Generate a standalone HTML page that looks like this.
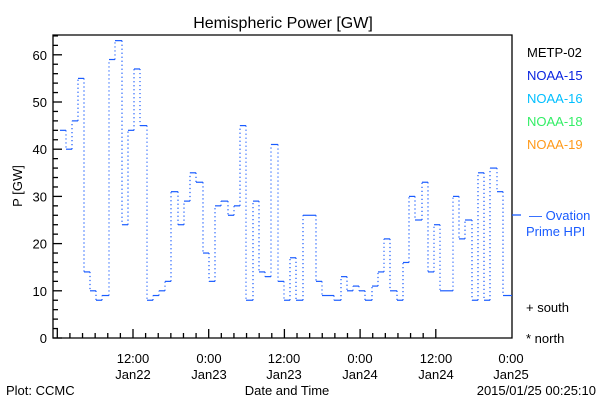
<!DOCTYPE html>
<html><head><style>body{margin:0;background:#fff}svg{display:block}text{font-family:"Liberation Sans",sans-serif}</style></head>
<body>
<svg id="s" width="600" height="400" xmlns="http://www.w3.org/2000/svg">
<rect width="600" height="400" fill="#fff"/>
<text x="283" y="28" font-size="16" text-anchor="middle">Hemispheric Power [GW]</text>
<text transform="translate(22,186) rotate(-90)" font-size="13" text-anchor="middle">P [GW]</text>
<g id="ax" stroke="#000" stroke-width="1.3" fill="none"></g>
<g id="yl" font-size="13" text-anchor="end"></g>
<g id="xl" font-size="13" text-anchor="middle"></g>
<g id="d" stroke="#1a5cff" stroke-width="1.2" fill="none"></g>
<g font-size="13">
<text x="527" y="57" fill="#000">METP-02</text>
<text x="527" y="80" fill="#0a24e0">NOAA-15</text>
<text x="527" y="103" fill="#00bfff">NOAA-16</text>
<text x="527" y="126" fill="#33ee66">NOAA-18</text>
<text x="527" y="149" fill="#ff9a1a">NOAA-19</text>
<text x="529" y="220" fill="#1a5cff">— Ovation</text>
<text x="526" y="236" fill="#1a5cff">Prime HPI</text>
<text x="526" y="312" fill="#000">+ south</text>
<text x="526" y="343" fill="#000">* north</text>
<text x="6" y="395">Plot: CCMC</text>
<text x="287" y="395" text-anchor="middle">Date and Time</text>
<text x="596" y="395" text-anchor="end">2015/01/25 00:25:10</text>
</g>
<line x1="512" y1="215" x2="521" y2="215" stroke="#1a5cff" stroke-width="1.3"/>
</svg>
<script>
var NS="http://www.w3.org/2000/svg";
function el(p,t,a,txt){var e=document.createElementNS(NS,t);for(var k in a)e.setAttribute(k,a[k]);if(txt)e.textContent=txt;document.getElementById(p).appendChild(e);}
var L=53,R=512,T=35,B=338;
function Y(v){return B-v*4.72;}
el("ax","path",{d:"M"+L+" "+T+"H"+R+"V"+B+"H"+L+"Z"});
for(var v=0;v<=64;v+=2){var y=Y(v);el("ax","line",{x1:L,x2:L+(v%10==0?9:5),y1:y,y2:y});}
for(var v=0;v<=60;v+=10)el("yl","text",{x:47,y:Y(v)+5},String(v));
var px=75.7/12;
for(var h=-12;h<=48;h+=2){var x=133+h*px;if(x<L+1||x>R+1)continue;el("ax","line",{x1:x,x2:x,y1:B,y2:B-((h%12==0)?9:5)});}
var labs=[[133,"12:00","Jan22"],[209,"0:00","Jan23"],[284,"12:00","Jan23"],[360,"0:00","Jan24"],[436,"12:00","Jan24"],[511,"0:00","Jan25"]];
labs.forEach(function(l){el("xl","text",{x:l[0],y:363},l[1]);el("xl","text",{x:l[0],y:379},l[2]);});
var s=[[60,44],[66,40],[72,46],[78,55],[84,14],[90,10],[96,8],[102,9],[109,59],[115,63],[122,24],[128,44],[134,57],[140,45],[147,8],[153,9],[159,10],[165,12],[171,31],[178,24],[184,29],[190,35],[196,33],[203,18],[209,12],[215,28],[221,29],[228,26],[234,28],[240,45],[246,8],[253,29],[259,14],[265,13],[271,41],[278,12],[284,8],[290,17],[296,8],[303,26],[316,12],[322,9],[334,8],[341,13],[347,10],[353,11],[359,10],[365,8],[372,11],[378,14],[384,21],[390,10],[397,8],[403,16],[409,30],[415,25],[422,33],[428,14],[434,24],[440,10],[453,30],[459,21],[465,25],[472,8],[478,35],[484,8],[490,36],[497,31],[503,9],[509,9]];
for(var i=0;i<s.length;i++){var x0=s[i][0],x1=i+1<s.length?s[i+1][0]:512,y=Y(s[i][1]);
el("d","line",{x1:x0,x2:x1,y1:y,y2:y});
if(i+1<s.length){var y2=Y(s[i+1][1]);el("d","line",{x1:x1,x2:x1,y1:y,y2:y2,"stroke-dasharray":"1.2 2.8"});}}
</script>
</body></html>
